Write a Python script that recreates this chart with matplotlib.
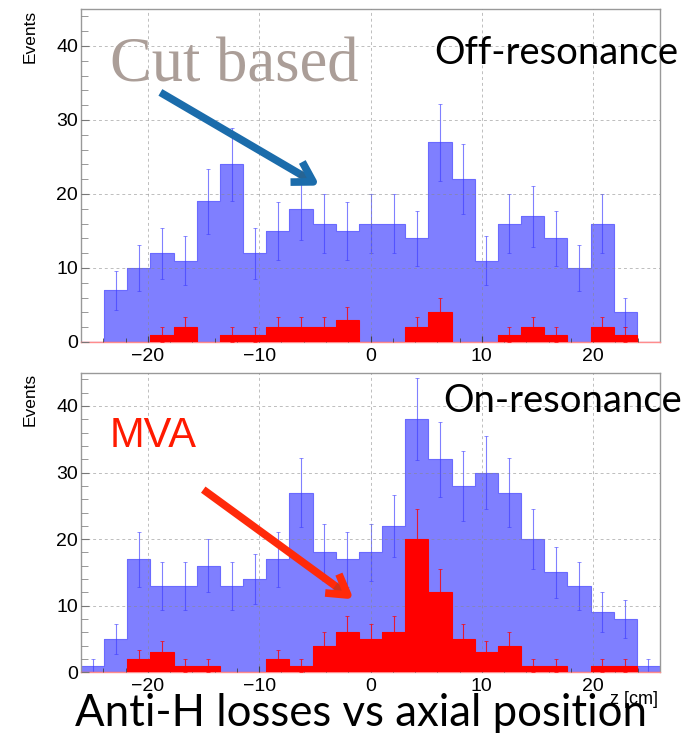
"""Annihilation vertex z-distributions, off- and on-resonance, cut based vs MVA."""

import numpy as np
import matplotlib

matplotlib.use("Agg")
import matplotlib.pyplot as plt
from matplotlib import patheffects
from matplotlib.patches import FancyArrowPatch

# 25 bins between -26 cm and 26 cm
z_edges = np.linspace(-26.0, 26.0, 26)

off_cut = [0, 7, 10, 12, 11, 19, 24, 12, 15, 18, 16, 15, 16,
           16, 14, 27, 22, 11, 16, 17, 14, 10, 16, 4, 0]
off_mva = [0, 0, 0, 1, 2, 0, 1, 1, 2, 2, 2, 3, 0,
           0, 2, 4, 0, 0, 1, 2, 1, 0, 2, 1, 0]
on_cut = [1, 5, 17, 13, 13, 16, 13, 14, 17, 27, 18, 17, 18,
          22, 38, 32, 28, 30, 27, 20, 15, 13, 9, 8, 1]
on_mva = [0, 0, 2, 3, 1, 1, 0, 0, 2, 1, 4, 6, 5,
          6, 20, 12, 5, 3, 4, 1, 1, 0, 1, 1, 0]

x_ticks = [-20, -10, 0, 10, 20]
y_ticks = [0, 10, 20, 30, 40]

W, H = 681, 733
BLUE_FILL = "#7f7fff"
BLUE_LINE = "#6a6aff"
BLUE_ERR = "#3c3cff"
RED = "#ff0000"


def px(x, y):
    """Figure pixel (from top-left) to figure fraction."""
    return x / W, 1 - y / H


def draw_hist(ax, counts, fill, line, err_color, err_alpha, zorder):
    counts = np.asarray(counts, dtype=float)
    centers = 0.5 * (z_edges[:-1] + z_edges[1:])
    ax.stairs(counts, z_edges, fill=True, color=fill, zorder=zorder)
    ax.stairs(counts, z_edges, color=line, lw=0.8, zorder=zorder + 0.1)
    nz = counts > 0
    ax.errorbar(centers[nz], counts[nz], yerr=np.sqrt(counts[nz]), fmt="none",
                ecolor=err_color, elinewidth=0.8, capsize=1.2, capthick=0.6,
                alpha=err_alpha, zorder=zorder + 0.2)


def style_axes(ax):
    ax.set_xlim(-26, 26)
    ax.set_ylim(0, 45)
    ax.set_xticks(x_ticks)
    ax.set_xticks(np.arange(-24, 25, 2), minor=True)
    ax.set_yticks(y_ticks)
    ax.set_yticks(np.arange(0, 45, 2), minor=True)
    ax.tick_params(axis="both", which="major", labelsize=14, direction="in",
                   colors="#777777", labelcolor="black")
    ax.tick_params(axis="y", which="major", length=6, pad=2)
    ax.tick_params(axis="y", which="minor", length=5, direction="in", color="#888888")
    ax.tick_params(axis="x", which="major", length=4, pad=4, color="#444444")
    ax.tick_params(axis="x", which="minor", length=3, direction="in", color="#444444")
    for lbl in ax.get_xticklabels() + ax.get_yticklabels():
        lbl.set_family("Liberation Sans")
    ax.grid(True, which="major", color="#888888", lw=0.7, ls=(0, (3, 3)),
            alpha=0.55, zorder=5)
    ax.set_axisbelow(False)
    for side in ("top", "left", "right"):
        ax.spines[side].set_color("#999999")
        ax.spines[side].set_linewidth(1.0)
    ax.spines["bottom"].set_color("#ff8c8c")
    ax.spines["bottom"].set_linewidth(1.0)


def arrow(fig, start, end, color):
    """Thick open-headed arrow with a soft drop shadow."""
    fig.patches.append(FancyArrowPatch(
        px(*start), px(*end), transform=fig.transFigure,
        arrowstyle="->,head_length=1.0,head_width=0.6", mutation_scale=14,
        color=color, lw=5.5, capstyle="butt",
        path_effects=[patheffects.SimplePatchShadow(offset=(2, -2), alpha=0.25),
                      patheffects.Normal()]))


def main():
    fig = plt.figure(figsize=(W / 100, H / 100), dpi=100)
    ax_off = fig.add_axes([81 / W, 1 - 342 / H, 579 / W, 333 / H])
    ax_on = fig.add_axes([81 / W, 1 - 672.3 / H, 579 / W, 299.6 / H])

    draw_hist(ax_off, off_cut, BLUE_FILL, BLUE_LINE, BLUE_ERR, 0.65, 2)
    draw_hist(ax_off, off_mva, RED, RED, RED, 0.8, 3)
    draw_hist(ax_on, on_cut, BLUE_FILL, BLUE_LINE, BLUE_ERR, 0.65, 2)
    draw_hist(ax_on, on_mva, RED, RED, RED, 0.8, 3)
    style_axes(ax_off)
    style_axes(ax_on)

    for top in (10, 373):
        fig.text(*px(30, top), "Events", rotation=90, ha="center", va="top",
                 fontsize=12.5, family="Liberation Sans")

    fig.text(*px(658, 704), "z [cm]", ha="right", va="baseline",
             fontsize=13, family="Liberation Sans")

    fig.text(*px(434, 64), "Off-resonance", fontsize=27.5, family="Lato",
             va="baseline", ha="left")
    fig.text(*px(443, 412), "On-resonance", fontsize=27.5, family="Lato",
             va="baseline", ha="left")
    fig.text(*px(110, 82), "Cut based", fontsize=45, family="Liberation Serif",
             color="#ab9e98", va="baseline", ha="left")
    fig.text(*px(110, 447), "MVA", fontsize=30, family="Liberation Sans",
             color="#ff1a00", va="baseline", ha="left")
    fig.text(*px(75, 726), "Anti-H losses vs axial position", fontsize=31.5,
             family="Lato", va="baseline", ha="left")

    arrow(fig, (158, 91), (322, 187), "#1b6cab")
    arrow(fig, (201, 488), (356, 601), "#ff2a0a")

    fig.savefig("out.png", dpi=100)
    plt.close(fig)


if __name__ == "__main__":
    main()
